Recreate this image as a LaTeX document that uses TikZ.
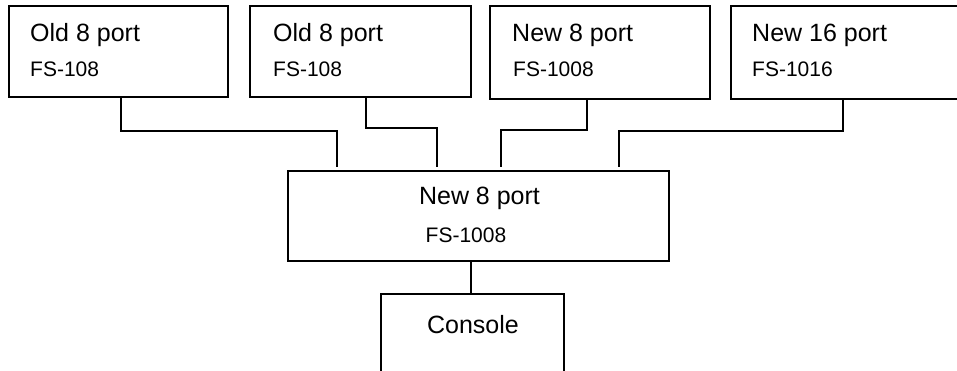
\documentclass[tikz,border=0pt]{standalone}
\usepackage{fontspec}
\setmainfont{Liberation Sans}
\begin{document}
\begin{tikzpicture}[x=1pt,y=-1pt,
  box/.style={draw=black,line width=1.2pt,inner sep=0pt,outer sep=0pt,rectangle},
  big/.style={inner sep=0pt,font=\fontsize{25}{29}\selectfont},
  small/.style={inner sep=0pt,font=\fontsize{21}{25}\selectfont},
  wire/.style={line width=1.2pt}]
\useasboundingbox (0,0) rectangle (957,371);
\clip (0,0) rectangle (957,371);
% boxes
\node[box,minimum width=219pt,minimum height=91pt] (b1) at (118.5,51.5) {};
\node[box,minimum width=221pt,minimum height=91pt] (b2) at (360.5,51.5) {};
\node[box,minimum width=220pt,minimum height=93pt] (b3) at (600,52.5) {};
\node[box,minimum width=239pt,minimum height=93pt] (b4) at (850.5,52.5) {};
\node[box,minimum width=381pt,minimum height=90pt] (hub) at (478.5,216) {};
\node[box,minimum width=183pt,minimum height=106pt] (con) at (472.5,347) {};
% texts
\node[big,anchor=base west] (t1a) at (30,42) {Old 8 port};
\node[small,anchor=base west] (t1b) at (30,77) {FS-108};
\node[big,anchor=base west] (t2a) at (273,42) {Old 8 port};
\node[small,anchor=base west] (t2b) at (273,77) {FS-108};
\node[big,anchor=base west] (t3a) at (512,42) {New 8 port};
\node[small,anchor=base west] (t3b) at (513,77) {FS-1008};
\node[big,anchor=base west] (t4a) at (752,42) {New 16 port};
\node[small,anchor=base west] (t4b) at (752,77) {FS-1016};
\node[big,anchor=base] (th1) at (479.5,205) {New 8 port};
\node[small,anchor=base] (th2) at (466,242) {FS-1008};
\node[big,anchor=base] (tc) at (473,333) {Console};
% connector points
\coordinate (k1) at (121,131); \coordinate (e1) at (337,167);
\coordinate (k2) at (366,128); \coordinate (e2) at (437,167);
\coordinate (k3) at (587,130); \coordinate (e3) at (501,167);
\coordinate (k4) at (843,131); \coordinate (e4) at (619,167);
\coordinate (k5) at (471,0);
\draw[wire] (k1 |- b1.south) -- (k1) -- (k1 -| e1) -- (e1);
\draw[wire] (k2 |- b2.south) -- (k2) -- (k2 -| e2) -- (e2);
\draw[wire] (k3 |- b3.south) -- (k3) -- (k3 -| e3) -- (e3);
\draw[wire] (k4 |- b4.south) -- (k4) -- (k4 -| e4) -- (e4);
\draw[wire] (k5 |- hub.south) -- (k5 |- con.north);
\end{tikzpicture}
\end{document}
